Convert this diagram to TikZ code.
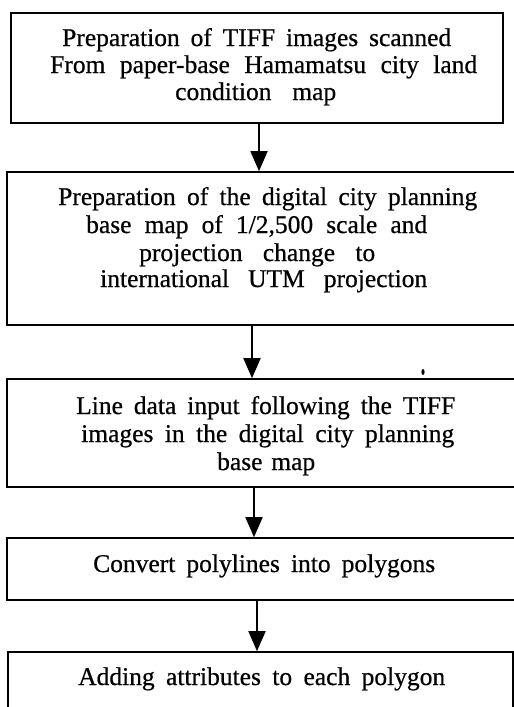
\documentclass[tikz,border=0pt]{standalone}
\usepackage{fontspec}
\setmainfont{Liberation Serif}
\newfontfamily\inkfont[FakeBold=0.6]{Liberation Serif}
\usetikzlibrary{arrows.meta}
\begin{document}
\begin{tikzpicture}[x=1pt,y=-1pt,
  box/.style={draw, line width=1.6pt, inner sep=0pt},
  txt/.style={inner sep=0pt, anchor=base west, font=\inkfont\fontsize{25.5}{27}\selectfont},
  arr/.style={line width=1.8pt, -{Triangle[width=17pt,length=20pt]}}]
\useasboundingbox (0,0) rectangle (514,707);
\clip (0,0) rectangle (514,707);
\fill[white] (0,0) rectangle (514,707);
% boxes
\node[box, minimum width=492pt, minimum height=110pt] (b1) at (257,68) {};
\node[box, minimum width=511pt, minimum height=153pt] (b2) at (262.5,248.5) {};
\node[box, minimum width=511pt, minimum height=108pt] (b3) at (262.5,433) {};
\node[box, minimum width=511pt, minimum height=62pt] (b4) at (262.5,569) {};
\node[box, minimum width=505pt, minimum height=70pt] (b5) at (260.5,687) {};
% texts
\node[txt] (t1a) at (62,46) {\makebox[389pt][s]{Preparation of TIFF images scanned}};
\node[txt] (t1b) at (50,73) {\makebox[427pt][s]{From paper-base Hamamatsu city land}};
\node[txt] (t1c) at (175,100) {\makebox[161pt][s]{condition map}};
\node[txt] (t2a) at (58,205) {\makebox[419pt][s]{Preparation of the digital city planning}};
\node[txt] (t2b) at (86,233) {\makebox[341pt][s]{base map of 1/2,500 scale and}};
\node[txt] (t2c) at (139,261) {\makebox[236pt][s]{projection change to}};
\node[txt] (t2d) at (100,287) {\makebox[327pt][s]{international UTM projection}};
\node[txt] (t3a) at (76,414) {\makebox[379pt][s]{Line data input following the TIFF}};
\node[txt] (t3b) at (81,442) {\makebox[373pt][s]{images in the digital city planning}};
\node[txt] (t3c) at (217,470) {\makebox[98pt][s]{base map}};
\node[txt] (t4a) at (93,572) {\makebox[342pt][s]{Convert polylines into polygons}};
\node[txt] (t5a) at (78,685) {\makebox[367pt][s]{Adding attributes to each polygon}};
% arrows
\coordinate (a1) at (259,0);
\coordinate (a2) at (252,0);
\coordinate (a3) at (254,0);
\coordinate (a4) at (257,0);
\draw[arr] (b1.south -| a1) -- (b2.north -| a1);
\draw[arr] (b2.south -| a2) -- (b3.north -| a2);
\draw[arr] (b3.south -| a3) -- (b4.north -| a3);
\draw[arr] (b4.south -| a4) -- (b5.north -| a4);
% stray mark
\fill (423,372) ellipse [x radius=1.6pt, y radius=3pt];
\end{tikzpicture}
\end{document}
